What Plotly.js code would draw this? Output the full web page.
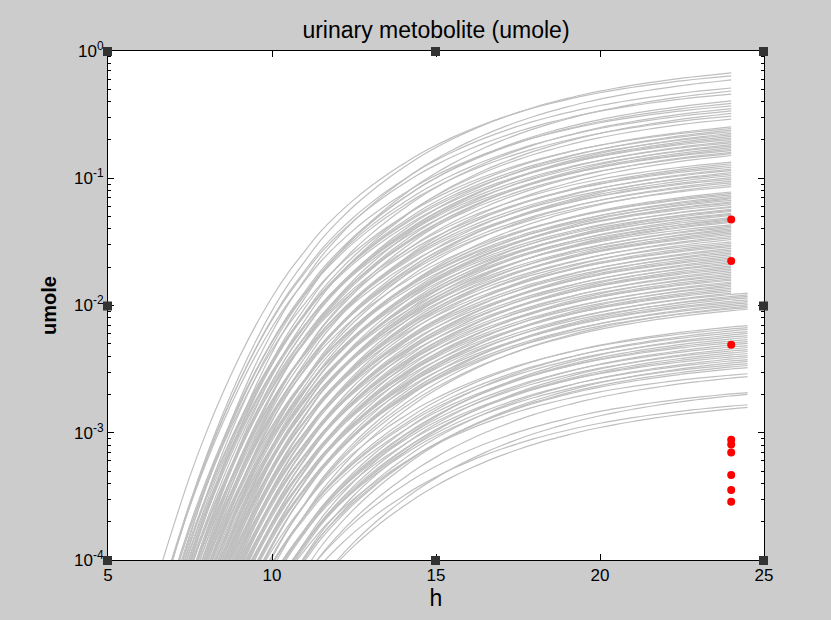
<!DOCTYPE html>
<html>
<head>
<meta charset="utf-8">
<script src="https://cdn.plot.ly/plotly-3.0.1.min.js"></script>
<style>
  html, body { margin: 0; padding: 0; background: #cccccc; }
  #chart { width: 831px; height: 620px; }
</style>
</head>
<body>
<div id="chart"></div>
<script>
// ---- sampling hours (h) ----
const hours = [5, 5.5, 6, 6.5, 7, 7.5, 8, 8.5, 9, 9.5, 10, 10.5, 11, 11.5, 12, 12.5, 13, 13.5, 14, 14.5,
               15, 15.5, 16, 16.5, 17, 17.5, 18, 18.5, 19, 19.5, 20, 20.5, 21, 21.5, 22, 22.5, 23, 23.5, 24, 24.5];

// decades below the 24 h amount, at each hour above
const riseShape = [5.9, 5.3, 4.75, 4.25, 3.8, 3.38, 3.01, 2.68, 2.38, 2.11, 1.87, 1.66, 1.48, 1.31, 1.17,
                   1.045, 0.935, 0.835, 0.745, 0.66, 0.586, 0.519, 0.459, 0.404, 0.355, 0.31, 0.269,
                   0.233, 0.2, 0.169, 0.142, 0.118, 0.096, 0.076, 0.058, 0.041, 0.026, 0.013, 0, -0.011];

// per-curve steepness factors (cycled over the curves)
const shapeScales = [1.0, 0.93, 1.06, 0.97, 1.1, 0.95, 1.03];

// cumulative urinary metabolite at 24 h (umole), curves that stop at 24 h
const curvesEndingAt24 = [
  0.672, 0.637, 0.592, 0.512, 0.485, 0.459,
  0.405, 0.387, 0.370, 0.353, 0.338, 0.323, 0.308, 0.292,
  0.253, 0.246, 0.239, 0.232, 0.225, 0.219, 0.213, 0.207, 0.201, 0.195, 0.190, 0.184, 0.179, 0.174, 0.169, 0.165, 0.160, 0.156, 0.151,
  0.134, 0.130, 0.126, 0.122, 0.118, 0.115, 0.111, 0.108, 0.105, 0.101, 0.098, 0.095, 0.092, 0.089, 0.086,
  0.078, 0.076, 0.074, 0.072, 0.070, 0.069, 0.067, 0.065, 0.064, 0.062, 0.060, 0.059, 0.057, 0.056, 0.055, 0.053, 0.052,
  0.051, 0.049, 0.048, 0.047, 0.046, 0.045, 0.043, 0.042, 0.041, 0.040, 0.039, 0.038, 0.037, 0.036, 0.035, 0.034, 0.033,
  0.0316, 0.0307, 0.0298, 0.0290, 0.0281, 0.0273, 0.0266, 0.0258, 0.0251, 0.0243, 0.0236, 0.0230, 0.0223, 0.0217,
  0.0211, 0.0205, 0.0199, 0.0193, 0.0188, 0.0182, 0.0177, 0.0172, 0.0167, 0.0162, 0.0158, 0.0153, 0.0149, 0.0145,
  0.0141, 0.0137, 0.0133, 0.0129, 0.0125
];

// curves that run on to 24.5 h
const curvesEndingAt245 = [
  0.0122, 0.0118, 0.0115, 0.0112, 0.0108, 0.0105, 0.0102, 0.0099, 0.0096, 0.0094, 0.0091,
  0.00678, 0.00654, 0.00631, 0.00608, 0.00587, 0.00566, 0.00546, 0.00526, 0.00508, 0.00490, 0.00472,
  0.00455, 0.00439, 0.00424, 0.00409, 0.00394, 0.00380, 0.00367, 0.00354, 0.00341, 0.00329, 0.00317,
  0.00284, 0.00269, 0.00202, 0.00195, 0.00162, 0.00154
];

// observed data (red)
const observedHour = [24, 24, 24, 24, 24, 24, 24, 24, 24];
const observedUmole = [0.0475, 0.0224, 0.00492, 0.00088, 0.00081, 0.00070, 0.000466, 0.000355, 0.000287];

// axis ticks
const xTickVals = [5, 10, 15, 20, 25];
const yTickVals = [1e-4, 1e-3, 1e-2, 1e-1, 1];
const yTickText = ['10<sup>-4</sup>', '10<sup>-3</sup>', '10<sup>-2</sup>', '10<sup>-1</sup>', '10<sup>0</sup>'];

const traces = [];
function addCurves(list, lastHour, offset) {
  list.forEach(function (a24, i) {
    const s = shapeScales[(i + offset) % shapeScales.length];
    const xs = [], ys = [];
    hours.forEach(function (h, j) {
      if (h <= lastHour) {
        xs.push(h);
        ys.push(a24 * Math.pow(10, -s * riseShape[j]));
      }
    });
    traces.push({
      type: 'scatter', mode: 'lines', x: xs, y: ys,
      line: { color: '#bfbfbf', width: 1.2, shape: 'spline', smoothing: 1 },
      hoverinfo: 'skip', showlegend: false
    });
  });
}
addCurves(curvesEndingAt24, 24, 0);
addCurves(curvesEndingAt245, 24.5, 3);

traces.push({
  type: 'scatter', mode: 'markers', x: observedHour, y: observedUmole,
  marker: { color: '#ff0000', size: 8, symbol: 'circle' },
  hoverinfo: 'skip', showlegend: false
});

const FONT = 'Liberation Sans, Arial, sans-serif';
const handlePos = [[0, 1], [0.5, 1], [1, 1], [0, 0.5], [1, 0.5], [0, 0], [0.5, 0], [1, 0]];
const shapes = handlePos.map(function (p) {
  return {
    type: 'rect', xref: 'paper', yref: 'paper', xsizemode: 'pixel', ysizemode: 'pixel',
    xanchor: p[0], yanchor: p[1], x0: -5, x1: 4, y0: -5, y1: 4,
    fillcolor: '#333333', line: { width: 0 }, layer: 'above'
  };
});

const layout = {
  width: 831, height: 620,
  paper_bgcolor: '#cccccc', plot_bgcolor: '#ffffff',
  margin: { l: 108, r: 67, t: 51, b: 60 },
  showlegend: false, hovermode: false,
  font: { family: FONT, color: '#000000', size: 17 },
  title: {
    text: 'urinary metobolite (umole)',
    font: { family: FONT, size: 23, color: '#000000' },
    x: 0.5, xref: 'paper', y: 1 - 30 / 620, yref: 'container', yanchor: 'middle'
  },
  xaxis: {
    range: [5, 25], tickvals: xTickVals, ticktext: xTickVals.map(String),
    ticks: 'inside', ticklen: 6, tickcolor: '#000', tickwidth: 1,
    showline: true, linecolor: '#000', linewidth: 1, mirror: 'ticks',
    showgrid: false, zeroline: false,
    tickfont: { family: FONT, size: 17, color: '#000' },
    title: { text: 'h', font: { family: FONT, size: 23, color: '#000' }, standoff: 4 }
  },
  yaxis: {
    type: 'log', range: [-4, 0], tickvals: yTickVals, ticktext: yTickText,
    ticks: 'inside', ticklen: 6, tickcolor: '#000', tickwidth: 1,
    minor: { ticks: 'inside', ticklen: 3, tickcolor: '#000', dtick: 'D1', showgrid: false },
    showline: true, linecolor: '#000', linewidth: 1, mirror: 'ticks',
    showgrid: false, zeroline: false,
    tickfont: { family: FONT, size: 17, color: '#000' },
    title: { text: '<b>umole</b>', font: { family: FONT, size: 20, color: '#000' }, standoff: 12 }
  },
  shapes: shapes
};

Plotly.newPlot('chart', traces, layout, { staticPlot: true, displayModeBar: false });
</script>
</body>
</html>
